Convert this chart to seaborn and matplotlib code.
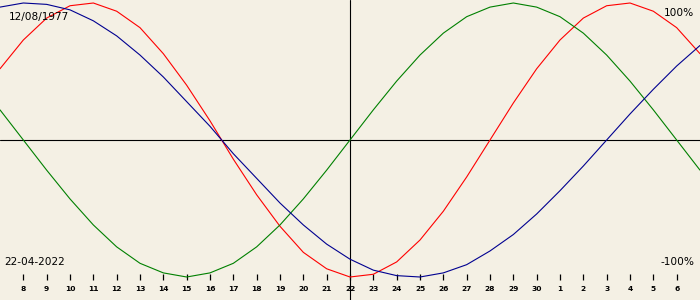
import matplotlib
matplotlib.use("Agg")
import matplotlib.pyplot as plt
import seaborn as sns
import pandas as pd

# day offsets relative to 22-04-2022
day_offsets = list(range(-15, 16))
physical = [52, 73, 89, 98, 100, 94, 82, 63, 40, 14, -14, -40, -63, -82, -94, -100,
            -98, -89, -73, -52, -27, 0, 27, 52, 73, 89, 98, 100, 94, 82, 63]
emotional = [22, 0, -22, -43, -62, -78, -90, -97, -100, -97, -90, -78, -62, -43, -22, 0,
             22, 43, 62, 78, 90, 97, 100, 97, 90, 78, 62, 43, 22, 0, -22]
intellectual = [97, 100, 99, 95, 87, 76, 62, 46, 28, 10, -10, -28, -46, -62, -76, -87,
                -95, -99, -100, -97, -91, -81, -69, -54, -37, -19, 0, 19, 37, 54, 69]
tick_days = list(range(-14, 15))
tick_labels = ["8", "9", "10", "11", "12", "13", "14", "15", "16", "17", "18", "19", "20",
               "21", "22", "23", "24", "25", "26", "27", "28", "29", "30", "1", "2", "3",
               "4", "5", "6"]
birth_text = "12/08/1977"
date_text = "22-04-2022"
top_text = "100%"
bottom_text = "-100%"

bg = "#F4F0E4"
sns.set_theme(style="white")
plt.rcParams["font.family"] = ["DejaVu Sans"]

df = pd.concat([
    pd.DataFrame({"day": day_offsets, "value": physical, "cycle": "physical"}),
    pd.DataFrame({"day": day_offsets, "value": emotional, "cycle": "emotional"}),
    pd.DataFrame({"day": day_offsets, "value": intellectual, "cycle": "intellectual"}),
])
palette = {"physical": "#FF0000", "emotional": "#008000", "intellectual": "#000090"}

fig = plt.figure(figsize=(7, 3), dpi=100, facecolor=bg)
ax = fig.add_axes([0, 0, 1, 1])
ax.set_facecolor(bg)

sns.lineplot(data=df, x="day", y="value", hue="cycle", palette=palette,
             linewidth=0.8, legend=False, ax=ax, zorder=3)

amp = 1.37  # px per percent
ax.set_xlim(-15, 15)
ax.set_ylim(-(300 - 140) / amp, 140 / amp)
ax.axhline(0, color="black", linewidth=0.8, zorder=2)
ax.axvline(0, color="black", linewidth=0.8, zorder=2)

for s in ax.spines.values():
    s.set_visible(False)
ax.set_xticks([])
ax.set_yticks([])
ax.set_xlabel("")
ax.set_ylabel("")

sec = ax.secondary_xaxis(20 / 300)
sec.set_xticks(tick_days)
sec.set_xticklabels(tick_labels)
sec.tick_params(axis="x", direction="in", length=4.5, width=0.9, color="black",
                pad=4, labelsize=5.4, labelcolor="black")
for lbl in sec.get_xticklabels():
    lbl.set_fontweight("bold")
sec.spines["bottom"].set_visible(False)

ax.text(9 / 700, 1 - 17 / 300, birth_text, transform=ax.transAxes, fontsize=7.6,
        ha="left", va="center", color="black")
ax.text(4 / 700, 1 - 262 / 300, date_text, transform=ax.transAxes, fontsize=7.6,
        ha="left", va="center", color="black")
ax.text(694 / 700, 1 - 13 / 300, top_text, transform=ax.transAxes, fontsize=7.6,
        ha="right", va="center", color="black")
ax.text(694 / 700, 1 - 262 / 300, bottom_text, transform=ax.transAxes, fontsize=7.6,
        ha="right", va="center", color="black")

fig.savefig("out.png", dpi=100, facecolor=bg)
